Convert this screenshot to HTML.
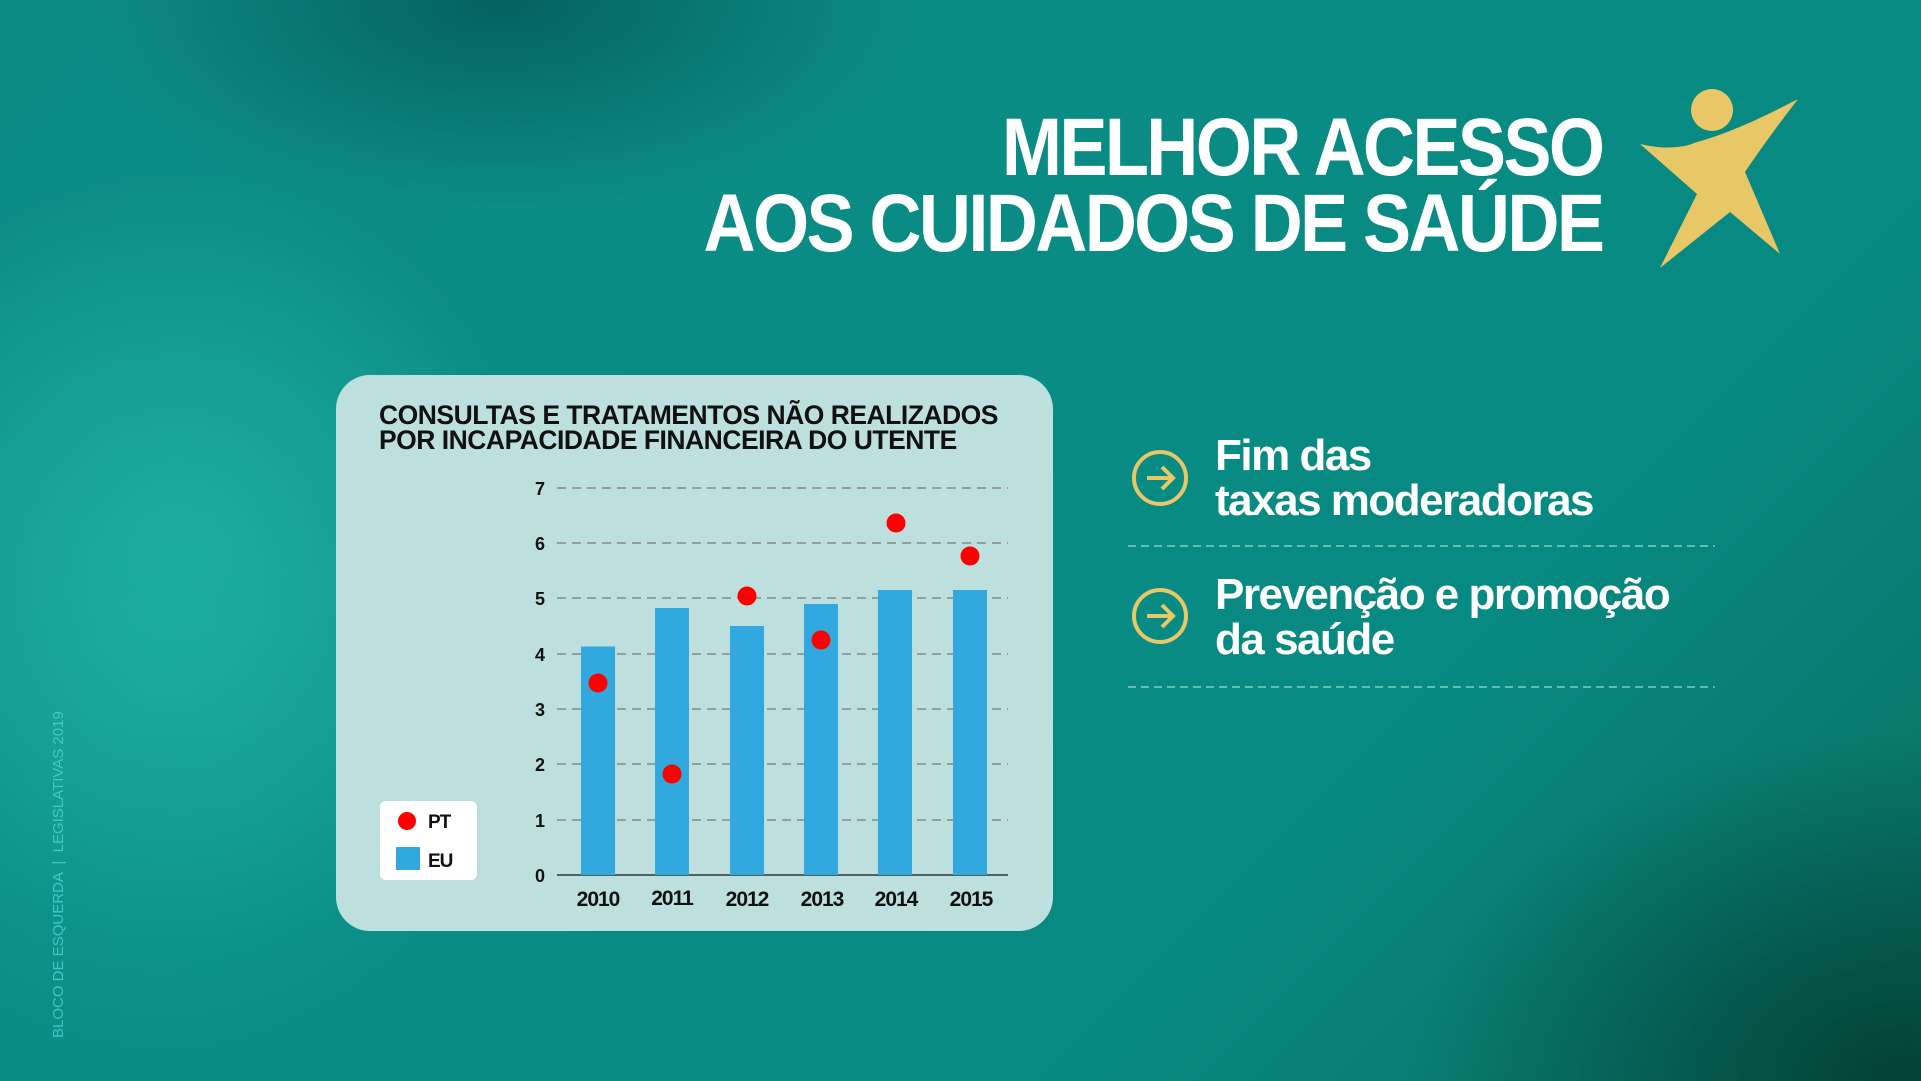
<!DOCTYPE html>
<html><head><meta charset="utf-8"><style>
html,body{margin:0;padding:0}
body{width:1921px;height:1081px;overflow:hidden;position:relative;font-family:"Liberation Sans",sans-serif;
background:
radial-gradient(ellipse 520px 560px at 180px 560px, rgba(40,190,170,.55), rgba(40,190,170,0) 70%),
radial-gradient(ellipse 700px 500px at 1900px 1080px, rgba(0,50,40,.75), rgba(0,60,50,0) 70%),
radial-gradient(ellipse 600px 300px at 500px 0px, rgba(0,70,70,.6), rgba(0,70,70,0) 70%),
linear-gradient(135deg,#0d8c86 0%,#0a8c84 40%,#078a82 70%,#0a6f60 100%);}
.t{position:absolute;color:#fff;font-weight:bold;white-space:nowrap}
</style></head><body>
<div style="position:absolute;left:0;top:200px;width:560px;height:880px;border-radius:0 50% 40% 0;background:radial-gradient(ellipse at 30% 50%,rgba(30,180,165,.5),rgba(30,160,150,0) 70%)"></div>
<div class="t" style="right:319px;top:110px;font-size:82px;line-height:76px;text-align:right;letter-spacing:-3px;transform:scaleX(0.88);transform-origin:right top">MELHOR ACESSO<br>AOS CUIDADOS DE SAÚDE</div>
<svg style="position:absolute;left:1635px;top:82px" width="170" height="190" viewBox="0 0 170 190">
<circle cx="77" cy="28" r="21" fill="#e8c766"/>
<path d="M5 62 Q40 70 62 60 Q100 50 163 17 Q130 60 110 90 L145 172 L95 130 L25 186 L62 112 Z" fill="#e8c766"/>
</svg>
<div style="position:absolute;left:336px;top:375px;width:717px;height:556px;border-radius:34px;background:#bde0df"></div>
<div class="t" style="left:379px;top:403px;font-size:26.5px;line-height:25px;color:#111;letter-spacing:-0.5px">CONSULTAS E TRATAMENTOS NÃO REALIZADOS<br>POR INCAPACIDADE FINANCEIRA DO UTENTE</div>
<svg style="position:absolute;left:0;top:0" width="1921" height="1081">
<g stroke="#888" stroke-width="1.5" stroke-dasharray="9,6">
<line x1="557" x2="1008" y1="488" y2="488"/><line x1="557" x2="1008" y1="543" y2="543"/>
<line x1="557" x2="1008" y1="598" y2="598"/><line x1="557" x2="1008" y1="654" y2="654"/>
<line x1="557" x2="1008" y1="709" y2="709"/><line x1="557" x2="1008" y1="764" y2="764"/>
<line x1="557" x2="1008" y1="820" y2="820"/></g>
<line x1="557" x2="1008" y1="875" y2="875" stroke="#333" stroke-width="1.5"/>
<g fill="#111" font-family="Liberation Sans" font-weight="bold" font-size="18" text-anchor="middle">
<text x="540" y="495">7</text><text x="540" y="550">6</text><text x="540" y="605">5</text><text x="540" y="661">4</text>
<text x="540" y="716">3</text><text x="540" y="771">2</text><text x="540" y="827">1</text><text x="540" y="882">0</text>
</g>
<g fill="#31a8de">
<rect x="581" y="646.5" width="34" height="228.5"/>
<rect x="655" y="608" width="34" height="267"/>
<rect x="730" y="626" width="34" height="249"/>
<rect x="804" y="604" width="34" height="271"/>
<rect x="878" y="590" width="34" height="285"/>
<rect x="953" y="590" width="34" height="285"/>
</g>
<g fill="#f00">
<circle cx="598" cy="683" r="9.5"/><circle cx="672" cy="774" r="9.5"/><circle cx="747" cy="596" r="9.5"/>
<circle cx="821" cy="640" r="9.5"/><circle cx="896" cy="523" r="9.5"/><circle cx="970" cy="556" r="9.5"/>
</g>
<g fill="#111" font-family="Liberation Sans" font-weight="bold" font-size="21" text-anchor="middle" letter-spacing="-1">
<text x="598" y="906">2010</text><text x="672" y="905">2011</text><text x="747" y="906">2012</text>
<text x="822" y="906">2013</text><text x="896" y="906">2014</text><text x="971" y="906">2015</text>
</g>
<rect x="380" y="801" width="97" height="79" rx="6" fill="#fff"/>
<circle cx="407" cy="821" r="9" fill="#f00"/>
<rect x="396" y="847" width="24" height="23" fill="#31a8de"/>
<g fill="#111" font-family="Liberation Sans" font-weight="bold" font-size="19" letter-spacing="-1">
<text x="428" y="828">PT</text><text x="428" y="867">EU</text></g>
<g fill="none" stroke="#e8c766" stroke-width="4">
<circle cx="1160" cy="478" r="26"/><path d="M1147 478 H1172 M1162 467 L1173 478 L1162 489"/>
<circle cx="1160" cy="616" r="26"/><path d="M1147 616 H1172 M1162 605 L1173 616 L1162 627"/>
</g>
<g stroke="#cfe" stroke-opacity=".6" stroke-width="1.5" stroke-dasharray="8,5">
<line x1="1128" x2="1715" y1="546" y2="546"/><line x1="1128" x2="1715" y1="687" y2="687"/></g>
</svg>
<div class="t" style="left:1215px;top:433px;font-size:44px;line-height:45px;letter-spacing:-1.5px">Fim das<br>taxas moderadoras</div>
<div class="t" style="left:1215px;top:572px;font-size:44px;line-height:45px;letter-spacing:-1.5px">Prevenção e promoção<br>da saúde</div>
<div style="position:absolute;left:50px;top:1038px;transform-origin:0 0;transform:rotate(-90deg);color:#4fd4d0;font-size:15px;white-space:nowrap;opacity:.8">BLOCO DE ESQUERDA &nbsp;|&nbsp; LEGISLATIVAS 2019</div>
</body></html>
